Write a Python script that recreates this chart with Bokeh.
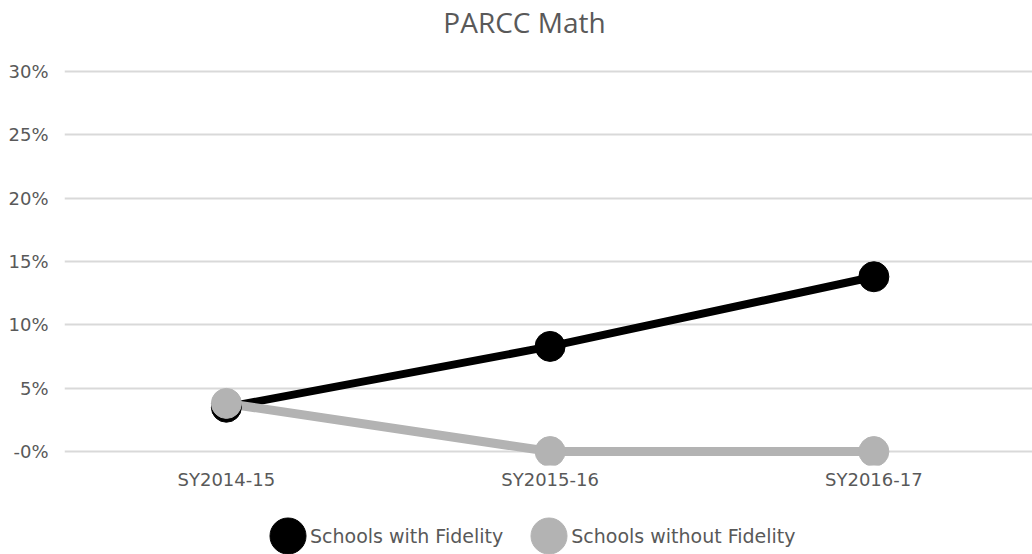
from bokeh.plotting import figure
from bokeh.layouts import column
from bokeh.models import Legend, LegendItem, FixedTicker, Range1d, Label
from bokeh.embed import file_html
from bokeh.resources import INLINE

title_text = "PARCC Math"
categories = ["SY2014-15", "SY2015-16", "SY2016-17"]
with_fidelity = [3.5, 8.3, 13.8]
without_fidelity = [3.8, 0.0, 0.0]
series_names = ["Schools with Fidelity", "Schools without Fidelity"]
series_colors = ["black", "#b3b3b3"]
y_ticks = [0, 5, 10, 15, 20, 25, 30]
y_tick_labels = ["-0%", "5%", "10%", "15%", "20%", "25%", "30%"]

xs = list(range(len(categories)))

# title strip
tf = figure(width=1032, height=60, output_backend="svg", toolbar_location=None,
            x_axis_type=None, y_axis_type=None,
            x_range=Range1d(0, 1), y_range=Range1d(0, 1),
            min_border_left=64, min_border_right=0, min_border_top=0, min_border_bottom=0)
tf.outline_line_color = None
tf.grid.visible = False
tf.add_layout(Label(x=460, y=39, x_units="screen", y_units="screen", text=title_text,
                    text_align="center", text_baseline="alphabetic",
                    text_font="Open Sans", text_font_size="28px", text_color="#595959"))

# main chart
p = figure(width=1032, height=440, output_backend="svg", toolbar_location=None,
           x_range=Range1d(-0.5, 2.49), y_range=Range1d(-1.1, 30.87),
           min_border_left=64, min_border_right=0, min_border_top=0, min_border_bottom=35)
p.outline_line_color = None
p.background_fill_color = "white"
p.border_fill_color = "white"

p.xaxis.ticker = FixedTicker(ticks=xs)
p.xaxis.major_label_overrides = {i: c for i, c in zip(xs, categories)}
p.yaxis.ticker = FixedTicker(ticks=y_ticks)
p.yaxis.major_label_overrides = {t: l for t, l in zip(y_ticks, y_tick_labels)}
for ax in (p.xaxis, p.yaxis):
    ax.axis_line_color = None
    ax.major_tick_line_color = None
    ax.minor_tick_line_color = None
    ax.major_label_text_font = "DejaVu Sans"
    ax.major_label_text_font_size = "18px"
    ax.major_label_text_color = "#595959"
p.yaxis.major_label_standoff = 10
p.xaxis.major_label_standoff = -3

p.xgrid.grid_line_color = None
p.ygrid.grid_line_color = "#d9d9d9"
p.ygrid.grid_line_width = 2

p.line(xs, with_fidelity, line_color=series_colors[0], line_width=8)
p.line(xs, without_fidelity, line_color=series_colors[1], line_width=9)
p.scatter(xs, with_fidelity, size=30, fill_color=series_colors[0], line_color=series_colors[0])
p.scatter(xs, without_fidelity, size=30, fill_color=series_colors[1], line_color=series_colors[1])

# legend strip under the chart; the proxy ellipses sit outside this strip's view
lg = figure(width=1032, height=54, output_backend="svg", toolbar_location=None,
            x_axis_type=None, y_axis_type=None,
            x_range=Range1d(100, 101), y_range=Range1d(100, 101),
            min_border_left=64, min_border_right=0, min_border_top=0, min_border_bottom=0)
lg.outline_line_color = None
lg.grid.visible = False
proxies = []
for vals, c in zip([with_fidelity, without_fidelity], series_colors):
    r = lg.ellipse(xs, vals, width=30, height=30, width_units="screen", height_units="screen",
                   fill_color=c, line_color=c)
    proxies.append(r)

legend = Legend(items=[LegendItem(label=n, renderers=[r]) for n, r in zip(series_names, proxies)],
                orientation="horizontal", location=(201, -4),
                glyph_width=45, glyph_height=45, label_standoff=0,
                spacing=23, padding=0, margin=0,
                background_fill_alpha=0, border_line_color=None,
                label_text_font="DejaVu Sans", label_text_font_size="19px",
                label_text_color="#595959")
lg.add_layout(legend, "center")

layout = column(tf, p, lg, spacing=0)
open("out.html", "w").write(file_html(layout, INLINE))
